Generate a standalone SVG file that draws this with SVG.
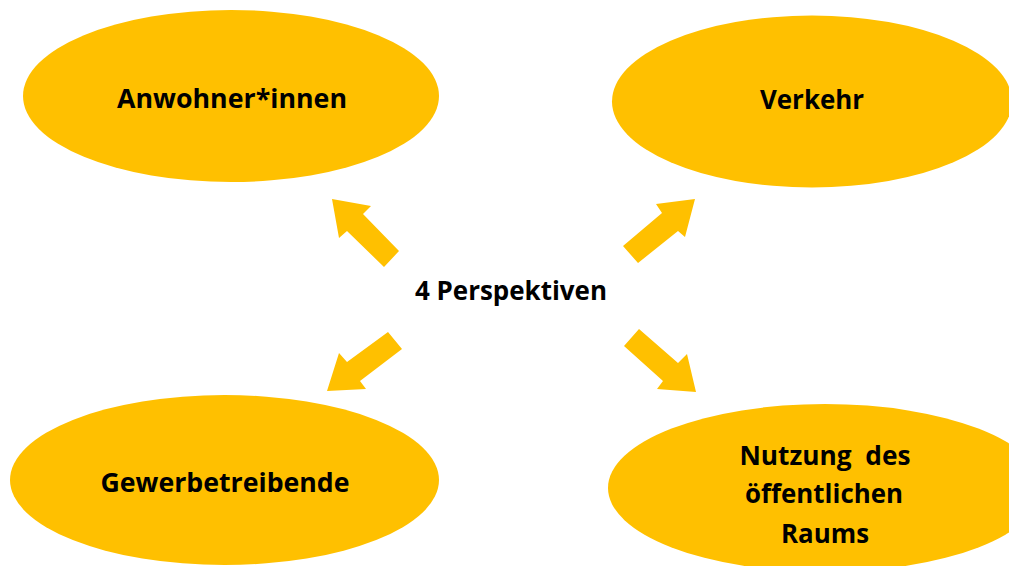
<svg xmlns="http://www.w3.org/2000/svg" width="1009" height="566" viewBox="0 0 1009 566">
<style>
.node{fill:#FFC000;}
.arrow{fill:#FFC000;}
.lbl{font-family:"Open Sans","Liberation Sans",sans-serif;font-weight:bold;font-size:27px;fill:#000;text-anchor:middle;white-space:pre;}
</style>
<rect width="1009" height="566" fill="#fff"/>
<g id="connectors">
<polygon class="arrow" points="332,199 371,206 363,214 399,251 384,267 347,231 339,238"/>
<polygon class="arrow" points="695,199 656,204 662,213 623,246 638,263 678,231 685,237"/>
<polygon class="arrow" points="327,391 339,353 347,362 388,332 402,349 360,381 366,389"/>
<polygon class="arrow" points="696,392 657,389 663,381 624,346 639,329 678,363 687,354"/>
</g>
<g id="node-center">
<text class="lbl" x="511" y="300" textLength="192" lengthAdjust="spacingAndGlyphs">4 Perspektiven</text>
</g>
<g id="node-anwohner">
<ellipse class="node" cx="231" cy="96" rx="208" ry="86"/>
<text class="lbl" x="232" y="108" textLength="230" lengthAdjust="spacingAndGlyphs">Anwohner*innen</text>
</g>
<g id="node-verkehr">
<ellipse class="node" cx="812" cy="101.5" rx="200" ry="86"/>
<text class="lbl" x="812" y="109" textLength="104" lengthAdjust="spacingAndGlyphs">Verkehr</text>
</g>
<g id="node-gewerbe">
<ellipse class="node" cx="224.5" cy="480" rx="214.5" ry="85"/>
<text class="lbl" x="225" y="492" textLength="249" lengthAdjust="spacingAndGlyphs">Gewerbetreibende</text>
</g>
<g id="node-nutzung">
<ellipse class="node" cx="825" cy="488" rx="217" ry="84"/>
<text class="lbl" x="825" y="465" textLength="171" lengthAdjust="spacingAndGlyphs" xml:space="preserve">Nutzung  des</text>
<text class="lbl" x="824" y="503" textLength="158" lengthAdjust="spacingAndGlyphs">öffentlichen</text>
<text class="lbl" x="825" y="543" textLength="88" lengthAdjust="spacingAndGlyphs">Raums</text>
</g>
</svg>
